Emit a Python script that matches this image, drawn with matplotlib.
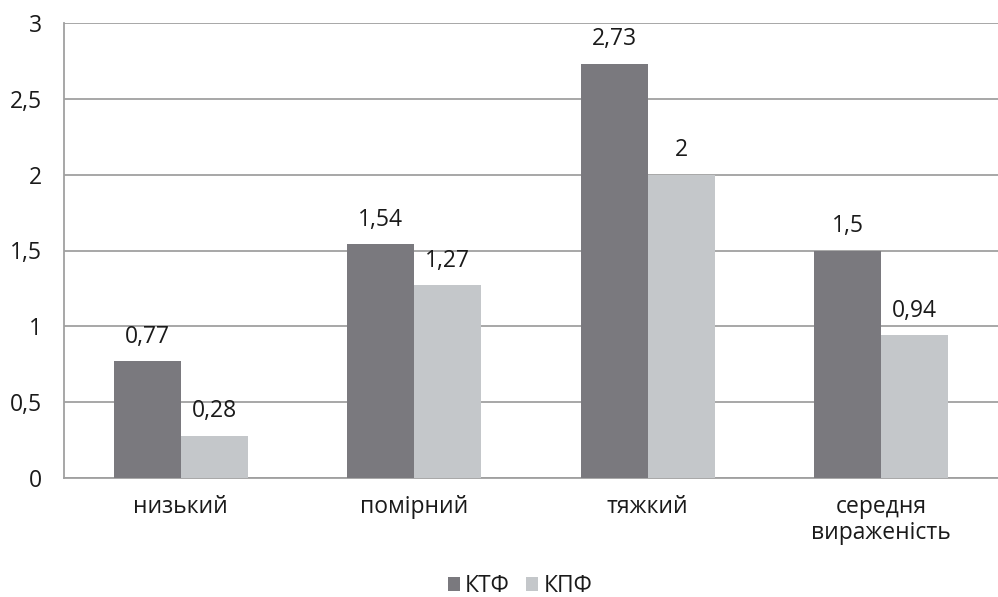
import numpy as np
import matplotlib.pyplot as plt

plt.rcParams['font.family'] = ['Open Sans', 'DejaVu Sans']

categories = ['низький', 'помірний', 'тяжкий', 'середня\nвираженість']
ktf = [0.77, 1.54, 2.73, 1.5]
kpf = [0.28, 1.27, 2.0, 0.94]
series_names = ['КТФ', 'КПФ']
yticks = [0, 0.5, 1, 1.5, 2, 2.5, 3]
ytick_labels = ['0', '0,5', '1', '1,5', '2', '2,5', '3']


def fmt(v):
    return ('%g' % v).replace('.', ',')


fs = 16.5
fig = plt.figure(figsize=(9.98, 5.97), dpi=100)
ax = fig.add_axes([64 / 998, 1 - 478 / 597, (998 - 64) / 998, (478 - 23) / 597])

x = np.arange(len(categories))
w = 0.287
b1 = ax.bar(x - w / 2, ktf, w, color='#7a797e', label=series_names[0], zorder=3)
b2 = ax.bar(x + w / 2, kpf, w, color='#c4c7ca', label=series_names[1], zorder=3)

for bars, vals in [(b1, ktf), (b2, kpf)]:
    for r, v in zip(bars, vals):
        ax.annotate(fmt(v), (r.get_x() + r.get_width() / 2, v),
                    xytext=(0, 9), textcoords='offset points',
                    ha='center', va='bottom', fontsize=fs, color='#1a1a1a')

ax.set_xlim(-0.5, len(categories) - 0.5)
ax.set_ylim(0, 3)
ax.set_yticks(yticks)
ax.set_yticklabels(ytick_labels)
ax.set_xticks(x)
ax.set_xticklabels(categories, linespacing=1.15)
ax.tick_params(axis='both', length=0, labelsize=fs, colors='#1a1a1a')
ax.tick_params(axis='y', pad=16)
ax.tick_params(axis='x', pad=12)
ax.yaxis.grid(True, color='#a0a0a0', linewidth=1.3, zorder=0)
ax.set_axisbelow(True)

for s in ['top', 'right']:
    ax.spines[s].set_visible(False)
for s in ['left', 'bottom']:
    ax.spines[s].set_color('#a0a0a0')
    ax.spines[s].set_linewidth(1.3)

fig.legend(handles=[b1, b2], loc='center', bbox_to_anchor=(520 / 998, 1 - 586 / 597),
           ncol=2, frameon=False, fontsize=fs, handlelength=0.52, handleheight=0.52,
           handletextpad=0.22, columnspacing=0.74, labelcolor='#1a1a1a',
           borderpad=0)

fig.savefig('out.png', dpi=100)
